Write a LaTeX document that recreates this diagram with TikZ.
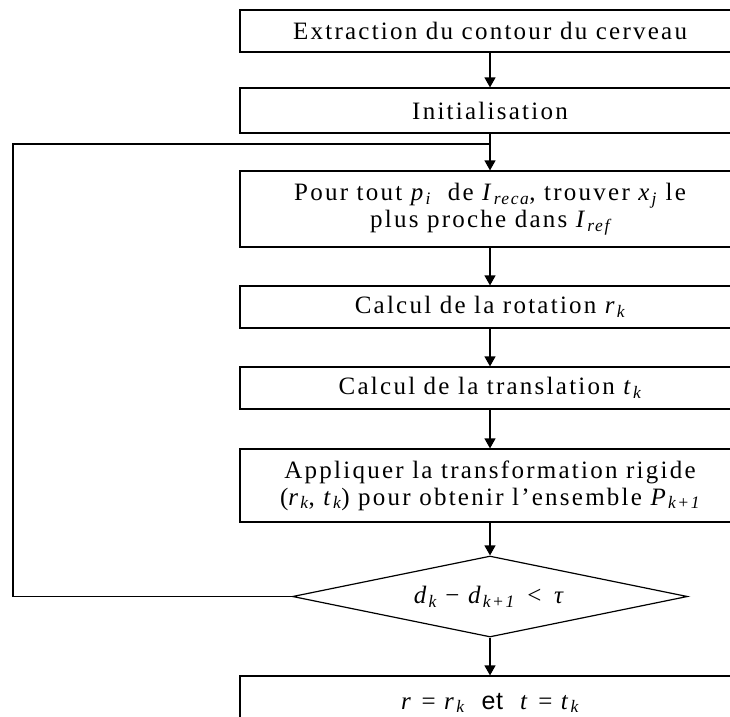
\documentclass[tikz,border=0pt]{standalone}
\usepackage{fontspec}
\setmainfont{Liberation Serif}[LetterSpace=9]
\newfontfamily\eqsans{Liberation Sans}[LetterSpace=3]
\usetikzlibrary{arrows.meta,shapes.geometric}
% italic index and italic variable
\newcommand\ix[1]{\textsubscript{\itshape #1}}
\newcommand\vr[1]{\textit{#1}}
\tikzset{
  stepbox/.style={draw, line width=1.2pt, rectangle, minimum width=500pt,
    inner sep=0pt, align=center, font=\fontsize{25}{27}\selectfont},
  testbox/.style={draw, line width=1.2pt, diamond, minimum width=395pt,
    minimum height=81pt, aspect=4.88, inner sep=0pt,
    font=\fontsize{25}{27}\selectfont},
  link/.style={line width=1.2pt},
  arr/.style={link, -{Triangle[width=11pt,length=10pt]}}
}
\begin{document}
\begin{tikzpicture}[x=1pt,y=-1pt]
  \useasboundingbox (0,0) rectangle (730,716);
  \clip (0,0) rectangle (730,716);
  \fill[white] (0,0) rectangle (730,716);

  \node[stepbox, minimum height=42pt] (b1) at (490,31)
    {Extraction du contour du cerveau};
  \node[stepbox, minimum height=45pt] (b2) at (490,110.5)
    {Initialisation};
  \node[stepbox, minimum height=76pt] (b3) at (490,209)
    {Pour tout \vr{p}\ix{i}\ \ de \vr{I}\ix{reca}, trouver \vr{x}\ix{j} le\\
     plus proche dans \vr{I}\ix{ref}};
  \node[stepbox, minimum height=42pt] (b4) at (490,307)
    {Calcul de la rotation \vr{r}\ix{k}};
  \node[stepbox, minimum height=42pt] (b5) at (490,388)
    {Calcul de la translation \vr{t}\ix{k}};
  \node[stepbox, minimum height=73pt] (b6) at (490,485.5)
    {Appliquer la transformation rigide\\
     (\vr{r}\ix{k}, \vr{t}\ix{k}) pour obtenir l’ensemble \vr{P}\ix{k+1}};
  \node[testbox] (d) at (490,596.5)
    {\vr{d}\ix{k} − \vr{d}\ix{k+1} \,<\, \vr{τ}};
  \node[stepbox, minimum height=54pt] (b7) at (490,703)
    {\vr{r} = \vr{r}\ix{k} \ {\eqsans et} \ \vr{t} = \vr{t}\ix{k}};

  % main sequence
  \draw[arr] (b1) -- (b2);
  \draw[arr] (b2) -- (b3);
  \draw[arr] (b3) -- (b4);
  \draw[arr] (b4) -- (b5);
  \draw[arr] (b5) -- (b6);
  \draw[arr] (b6) -- (d);
  \draw[arr] (d) -- (b7);

  % feedback loop joining the entry of the matching step
  \coordinate (lb) at (13,596.5);
  \coordinate (lt) at (13,144);
  \coordinate (j) at (490,144);
  \draw[link] (d.west) -- (lb) -- (lt) -- (j);
\end{tikzpicture}
\end{document}
